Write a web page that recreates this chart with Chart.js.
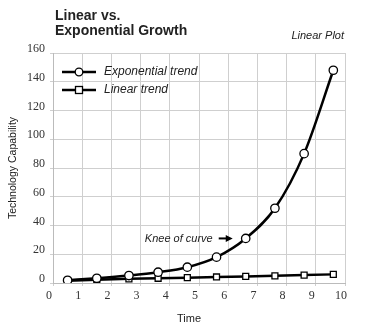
<!DOCTYPE html>
<html>
<head>
<meta charset="utf-8">
<script src="https://cdn.jsdelivr.net/npm/chart.js@4"></script>
<style>
  html, body { margin: 0; padding: 0; background: #fff; }
  #wrap { width: 371px; height: 329px; }
</style>
</head>
<body>
<div id="wrap"><canvas id="chart" width="371" height="329"></canvas></div>
<script>
// values
var timePoints = [0.5, 1.5, 2.6, 3.6, 4.6, 5.6, 6.6, 7.6, 8.6, 9.6];
var exponentialTrend = [1.9, 3.3, 5.2, 7.5, 11, 18, 31, 52, 90, 148];
var linearTrend = [1.5, 2.3, 2.9, 3.3, 3.7, 4.2, 4.6, 5.0, 5.5, 6.0];
var xTicks = [0, 1, 2, 3, 4, 5, 6, 7, 8, 9, 10];
var yTicks = [0, 20, 40, 60, 80, 100, 120, 140, 160];
var seriesNames = ['Exponential trend', 'Linear trend'];
var kneeIndex = 6;

function pairs(xs, ys) {
    return xs.map(function (x, i) { return { x: x, y: ys[i] }; });
}

var sans = '"Liberation Sans", Arial, sans-serif';
var serif = 'Liberation Serif';

// title, legend and the knee note are drawn on top of the chart
var decorations = {
    id: 'decorations',
    afterDraw: function (chart) {
        var ctx = chart.ctx;
        var xs = chart.scales.x, ys = chart.scales.y;
        ctx.save();
        ctx.fillStyle = '#222';
        ctx.textBaseline = 'alphabetic';
        ctx.textAlign = 'left';
        ctx.font = 'bold 14px ' + sans;
        ctx.fillText('Linear vs.', 55, 20);
        ctx.fillText('Exponential Growth', 55, 35);
        ctx.font = 'italic 11px ' + sans;
        ctx.textAlign = 'right';
        ctx.fillText('Linear Plot', 344, 39);

        // legend
        var rows = [{ y: 72, style: 'circle' }, { y: 90, style: 'rect' }];
        rows.forEach(function (r, i) {
            ctx.strokeStyle = '#000';
            ctx.lineWidth = 2.5;
            ctx.beginPath();
            ctx.moveTo(62, r.y);
            ctx.lineTo(96, r.y);
            ctx.stroke();
            ctx.fillStyle = '#fff';
            ctx.lineWidth = 1.3;
            if (r.style === 'circle') {
                ctx.beginPath();
                ctx.arc(79, r.y, 3.8, 0, Math.PI * 2);
                ctx.fill();
                ctx.stroke();
            } else {
                ctx.fillRect(75.5, r.y - 3.5, 7, 7);
                ctx.strokeRect(75.5, r.y - 3.5, 7, 7);
            }
            ctx.fillStyle = '#222';
            ctx.textAlign = 'left';
            ctx.textBaseline = 'middle';
            ctx.font = 'italic 12px ' + sans;
            ctx.fillText(seriesNames[i], 104, r.y);
        });

        // knee of curve note
        var px = xs.getPixelForValue(timePoints[kneeIndex]);
        var py = ys.getPixelForValue(exponentialTrend[kneeIndex]);
        var ax = px - 13;
        ctx.strokeStyle = '#000';
        ctx.lineWidth = 2;
        ctx.beginPath();
        ctx.moveTo(ax - 14, py);
        ctx.lineTo(ax - 5, py);
        ctx.stroke();
        ctx.fillStyle = '#000';
        ctx.beginPath();
        ctx.moveTo(ax, py);
        ctx.lineTo(ax - 7, py - 3.5);
        ctx.lineTo(ax - 7, py + 3.5);
        ctx.closePath();
        ctx.fill();
        ctx.fillStyle = '#222';
        ctx.font = 'italic 11px ' + sans;
        ctx.textAlign = 'right';
        ctx.textBaseline = 'middle';
        ctx.fillText('Knee of curve', ax - 20, py);

        // x axis title, sitting a little left of centre as in the source
        ctx.font = '11px ' + sans;
        ctx.textAlign = 'center';
        ctx.textBaseline = 'alphabetic';
        ctx.fillText('Time', 189, 322);
        ctx.restore();
    }
};

new Chart(document.getElementById('chart'), {
    type: 'line',
    data: {
        datasets: [
            {
                label: seriesNames[0],
                data: pairs(timePoints, exponentialTrend),
                borderColor: '#000',
                borderWidth: 2.5,
                backgroundColor: '#fff',
                pointStyle: 'circle',
                pointRadius: 4.2,
                pointBorderWidth: 1.3,
                pointBorderColor: '#000',
                pointBackgroundColor: '#fff',
                cubicInterpolationMode: 'monotone'
            },
            {
                label: seriesNames[1],
                data: pairs(timePoints, linearTrend),
                borderColor: '#000',
                borderWidth: 2.5,
                backgroundColor: '#fff',
                pointStyle: 'rect',
                pointRadius: 4.2,
                pointBorderWidth: 1.3,
                pointBorderColor: '#000',
                pointBackgroundColor: '#fff'
            }
        ]
    },
    options: {
        responsive: false,
        animation: false,
        layout: { padding: { top: 53, right: 26, bottom: 4, left: 7 } },
        plugins: {
            legend: { display: false },
            tooltip: { enabled: false }
        },
        scales: {
            x: {
                type: 'linear',
                min: 0,
                max: 10,
                afterBuildTicks: function (s) { s.ticks = xTicks.map(function (v) { return { value: v }; }); },
                afterFit: function (s) { s.height = 42; },
                grid: { color: '#cfcfcf', lineWidth: 1, tickLength: 3 },
                border: { color: '#bbb' },
                ticks: {
                    color: '#333',
                    font: { family: serif, size: 12 },
                    labelOffset: -4,
                    padding: 3,
                    maxRotation: 0
                },
                title: { display: false }
            },
            y: {
                min: 0,
                max: 160,
                afterBuildTicks: function (s) { s.ticks = yTicks.map(function (v) { return { value: v }; }); },
                afterFit: function (s) { s.width = 46; },
                grid: { color: '#cfcfcf', lineWidth: 1, tickLength: 3 },
                border: { color: '#bbb' },
                ticks: {
                    color: '#333',
                    font: { family: serif, size: 12 },
                    labelOffset: -4,
                    padding: 5
                },
                title: {
                    display: true,
                    text: 'Technology Capability',
                    color: '#222',
                    font: { family: sans, size: 10.5 },
                    padding: { top: 0, bottom: 2 }
                }
            }
        }
    },
    plugins: [decorations]
});
</script>
</body>
</html>
